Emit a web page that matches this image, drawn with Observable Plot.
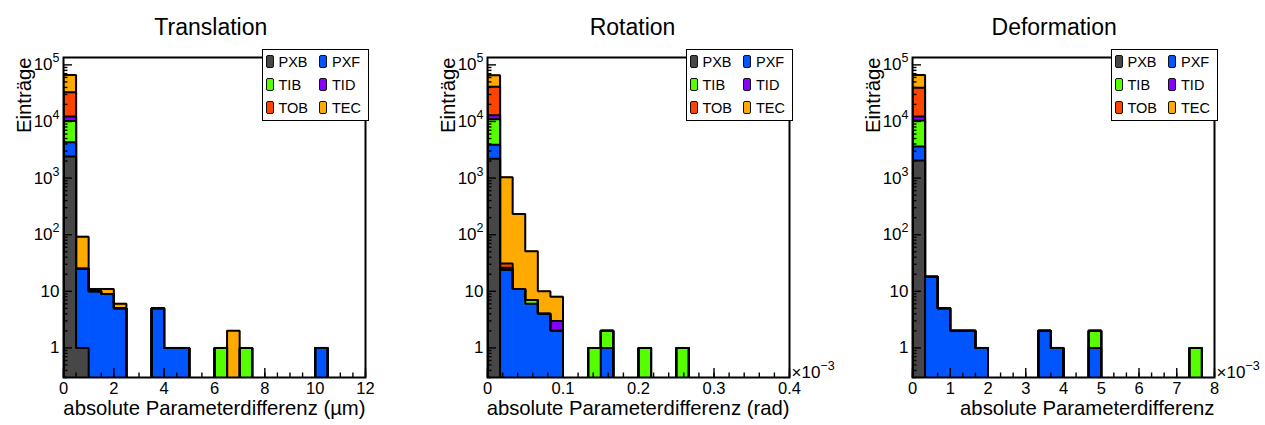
<!DOCTYPE html>
<html><head><meta charset="utf-8">
<script src="https://cdn.jsdelivr.net/npm/d3@7"></script>
<script src="https://cdn.jsdelivr.net/npm/@observablehq/plot@0.6"></script>
<style>
body{margin:0;background:#fff;font-family:"Liberation Sans",Arial,Helvetica,sans-serif;color:#000;}
#root{position:relative;width:1265px;height:425px;overflow:hidden;background:#fff;}
.panel{position:absolute;top:40px;width:415px;height:385px;}
.title{position:absolute;top:15.5px;width:300px;text-align:center;font-size:23px;line-height:23px;white-space:nowrap;}
.legend{position:absolute;top:49px;width:105px;height:70px;border:1px solid #000;background:#fff;}
.sw{position:absolute;width:6px;height:11px;border:1.5px solid #111;border-radius:2px;}
.lt{position:absolute;font-size:14.5px;line-height:16px;white-space:nowrap;}
</style></head>
<body><div id="root"></div>
<script>
// ---------- data ----------
const detectors = ["PXB", "PXF", "TIB", "TID", "TOB", "TEC"];
const detectorColors = ["#474747", "#0055ff", "#55ff00", "#8800ff", "#ff4400", "#ffaa00"];
const panelTitles = ["Translation", "Rotation", "Deformation"];
const xAxisTitles = ["absolute Parameterdifferenz (µm)", "absolute Parameterdifferenz (rad)", "absolute Parameterdifferenz"];
const xRanges = [[0, 12], [0, 0.4], [0, 8]];
const xMultipliers = [null, "×10^−3", "×10^−3"];
const binCount = 24;
const xMajorTicks = [[0, 2, 4, 6, 8, 10, 12], [0, 0.1, 0.2, 0.3, 0.4], [0, 1, 2, 3, 4, 5, 6, 7, 8]];
const xMinorSteps = [0.5, 0.02, 1 / 3];
const yDomain = [0.3, 1.35e5];
const yMajorTicks = [1, 10, 100, 1000, 10000, 100000];
const yTickLabels = ["1", "10", "10^2", "10^3", "10^4", "10^5"];
const yAxisTitle = "Einträge";

// Translation (bins of 0.5 µm)
const transPXB = [2400, 1, 0, 0, 0, 0, 0, 0, 0, 0, 0, 0, 0, 0, 0, 0, 0, 0, 0, 0, 0, 0, 0, 0];
const transPXF = [1900, 24, 10, 9, 5, 0, 0, 5, 1, 1, 0, 0, 0, 0, 0, 0, 0, 0, 0, 0, 1, 0, 0, 0];
const transTIB = [5900, 0, 0, 0, 0, 0, 0, 0, 0, 0, 0, 0, 1, 0, 1, 0, 0, 0, 0, 0, 0, 0, 0, 0];
const transTID = [2000, 0, 0, 0, 0, 0, 0, 0, 0, 0, 0, 0, 0, 0, 0, 0, 0, 0, 0, 0, 0, 0, 0, 0];
const transTOB = [20600, 0, 0, 0, 0, 0, 0, 0, 0, 0, 0, 0, 0, 0, 0, 0, 0, 0, 0, 0, 0, 0, 0, 0];
const transTEC = [33500, 67, 1, 2, 1, 0, 0, 0, 0, 0, 0, 0, 0, 2, 0, 0, 0, 0, 0, 0, 0, 0, 0, 0];

// Rotation (bins of 0.0167e-3 rad)
const rotPXB = [2200, 0, 0, 0, 0, 0, 0, 0, 0, 0, 0, 0, 0, 0, 0, 0, 0, 0, 0, 0, 0, 0, 0, 0];
const rotPXF = [1700, 24, 11, 6, 4, 2, 0, 0, 0, 1, 0, 0, 0, 0, 0, 0, 0, 0, 0, 0, 0, 0, 0, 0];
const rotTIB = [7100, 0, 0, 1, 0, 0, 0, 0, 1, 1, 0, 0, 1, 0, 0, 1, 0, 0, 0, 0, 0, 0, 0, 0];
const rotTID = [1900, 2, 0, 0, 0, 1, 0, 0, 0, 0, 0, 0, 0, 0, 0, 0, 0, 0, 0, 0, 0, 0, 0, 0];
const rotTOB = [28000, 5, 0, 0, 0, 0, 0, 0, 0, 0, 0, 0, 0, 0, 0, 0, 0, 0, 0, 0, 0, 0, 0, 0];
const rotTEC = [24600, 1000, 220, 44, 6, 5, 0, 0, 0, 0, 0, 0, 0, 0, 0, 0, 0, 0, 0, 0, 0, 0, 0, 0];

// Deformation (bins of 0.333e-3)
const defPXB = [2040, 0, 0, 0, 0, 0, 0, 0, 0, 0, 0, 0, 0, 0, 0, 0, 0, 0, 0, 0, 0, 0, 0, 0];
const defPXF = [1560, 18, 5, 2, 2, 1, 0, 0, 0, 0, 2, 1, 0, 0, 1, 0, 0, 0, 0, 0, 0, 0, 0, 0];
const defTIB = [6800, 0, 0, 0, 0, 0, 0, 0, 0, 0, 0, 0, 0, 0, 1, 0, 0, 0, 0, 0, 0, 0, 1, 0];
const defTID = [1800, 0, 0, 0, 0, 0, 0, 0, 0, 0, 0, 0, 0, 0, 0, 0, 0, 0, 0, 0, 0, 0, 0, 0];
const defTOB = [27100, 0, 0, 0, 0, 0, 0, 0, 0, 0, 0, 0, 0, 0, 0, 0, 0, 0, 0, 0, 0, 0, 0, 0];
const defTEC = [27200, 0, 0, 0, 0, 0, 0, 0, 0, 0, 0, 0, 0, 0, 0, 0, 0, 0, 0, 0, 0, 0, 0, 0];

const panelSeries = [
  [transPXB, transPXF, transTIB, transTID, transTOB, transTEC],
  [rotPXB, rotPXF, rotTIB, rotTID, rotTOB, rotTEC],
  [defPXB, defPXF, defTIB, defTID, defTOB, defTEC]
];

// ---------- layout ----------
const panelLefts = [0, 424, 849];
const PW = 415, PH = 385, ML = 63, MR = 50, MT = 17, MB = 48;
const FLOOR = 0.05;
const FONT = '"Liberation Sans", Arial, Helvetica, sans-serif';
const root = document.getElementById("root");

function superscripts(svg) {
  svg.querySelectorAll("text").forEach(t => {
    const s = t.textContent;
    if (s.includes("^") && t.children.length === 0) {
      const [base, exp] = s.split("^");
      t.textContent = base;
      const ts = document.createElementNS("http://www.w3.org/2000/svg", "tspan");
      ts.setAttribute("dy", "-8");
      ts.setAttribute("font-size", "12.5");
      ts.textContent = exp;
      t.appendChild(ts);
    }
  });
}

function yMinor() {
  const out = [];
  for (let e = -1; e <= 5; e++) for (let m = 2; m <= 9; m++) {
    const v = m * Math.pow(10, e);
    if (v >= yDomain[0] && v <= yDomain[1]) out.push(v);
  }
  return out;
}

panelSeries.forEach((series, p) => {
  const [x0, x1] = xRanges[p];
  const w = (x1 - x0) / binCount;
  const edges = d3.range(binCount + 1).map(i => x0 + i * w);
  const rects = [], lines = [];
  const cum = new Array(binCount).fill(0);
  series.forEach((vals, k) => {
    const prev = cum.slice();
    vals.forEach((v, i) => cum[i] += v);
    vals.forEach((v, i) => {
      if (v > 0) rects.push({x1: edges[i], x2: edges[i + 1], y1: prev[i] > 0 ? prev[i] : FLOOR, y2: cum[i], det: detectors[k]});
    });
    lines.push({x: edges[0], y: FLOOR, k});
    cum.forEach((c, i) => lines.push({x: edges[i], y: c > 0 ? c : FLOOR, k}));
    lines.push({x: edges[binCount], y: cum[binCount - 1] > 0 ? cum[binCount - 1] : FLOOR, k});
    lines.push({x: edges[binCount], y: FLOOR, k});
  });
  const minorX = d3.range(0, Math.round((x1 - x0) / xMinorSteps[p]) + 1).map(i => x0 + i * xMinorSteps[p]);

  const marks = [
    Plot.rect(rects, {x1: "x1", x2: "x2", y1: "y1", y2: "y2", fill: "det", stroke: "det", strokeWidth: 1, clip: true}),
    Plot.line(lines, {x: "x", y: "y", z: "k", curve: "step-after", stroke: "#000", strokeWidth: 2, strokeLinejoin: "miter", clip: true}),
    Plot.axisX({ticks: minorX, tickSize: -4.5, fill: "none", strokeWidth: 1.4, label: null}),
    Plot.axisX({ticks: xMajorTicks[p], tickSize: -9, fill: "none", strokeWidth: 1.4, label: null}),
    Plot.axisX({ticks: xMajorTicks[p], tickSize: 0, tickPadding: 5, fontSize: 16.5, label: null, tickFormat: d => String(+d.toFixed(3))}),
    Plot.axisY({ticks: yMinor(), tickSize: -4.5, fill: "none", strokeWidth: 1.4, label: null}),
    Plot.axisY({ticks: yMajorTicks, tickSize: -9, fill: "none", strokeWidth: 1.4, label: null}),
    Plot.axisY({ticks: yMajorTicks, tickSize: 0, tickPadding: 4, fontSize: 17, label: null, tickFormat: d => yTickLabels[yMajorTicks.indexOf(d)]}),
    Plot.frame({stroke: "#000", strokeWidth: 2}),
    Plot.text([xAxisTitles[p]], {frameAnchor: "bottom-right", text: d => d, dy: 37, textAnchor: "end", fontSize: 20.3}),
    Plot.text([yAxisTitle], {frameAnchor: "top-left", text: d => d, rotate: -90, textAnchor: "end", dx: -47, fontSize: 20.3})
  ];
  if (xMultipliers[p]) marks.push(Plot.text([xMultipliers[p]], {frameAnchor: "bottom-right", text: d => d, textAnchor: "start", lineAnchor: "bottom", dx: 2, dy: 0, fontSize: 17}));

  const svg = Plot.plot({
    width: PW, height: PH, marginLeft: ML, marginRight: MR, marginTop: MT, marginBottom: MB,
    style: {fontFamily: FONT, background: "transparent", color: "#000", overflow: "visible"},
    x: {domain: [x0, x1], axis: null},
    y: {type: "log", domain: yDomain, axis: null},
    color: {domain: detectors, range: detectorColors},
    marks
  });
  superscripts(svg);

  const panel = document.createElement("div");
  panel.className = "panel";
  panel.style.left = panelLefts[p] + "px";
  panel.appendChild(svg);
  root.appendChild(panel);

  const title = document.createElement("div");
  title.className = "title";
  title.textContent = panelTitles[p];
  const padCenter = (p + 0.5) * 1265 / 3;
  title.style.left = (padCenter - 150) + "px";
  root.appendChild(title);

  const frameRight = panelLefts[p] + PW - MR;
  const lg = document.createElement("div");
  lg.className = "legend";
  lg.style.left = (frameRight - 103) + "px";
  const rowY = [11.5, 35, 58.3];
  detectors.forEach((d, i) => {
    const row = Math.floor(i / 2), col = i % 2;
    const sw = document.createElement("div");
    sw.className = "sw";
    sw.style.background = detectorColors[i];
    sw.style.left = (2.5 + col * 53.5) + "px";
    sw.style.top = (rowY[row] - 7) + "px";
    lg.appendChild(sw);
    const lt = document.createElement("div");
    lt.className = "lt";
    lt.textContent = d;
    lt.style.left = (15.5 + col * 53.5) + "px";
    lt.style.top = (rowY[row] - 8) + "px";
    lg.appendChild(lt);
  });
  root.appendChild(lg);
});
</script></body></html>
